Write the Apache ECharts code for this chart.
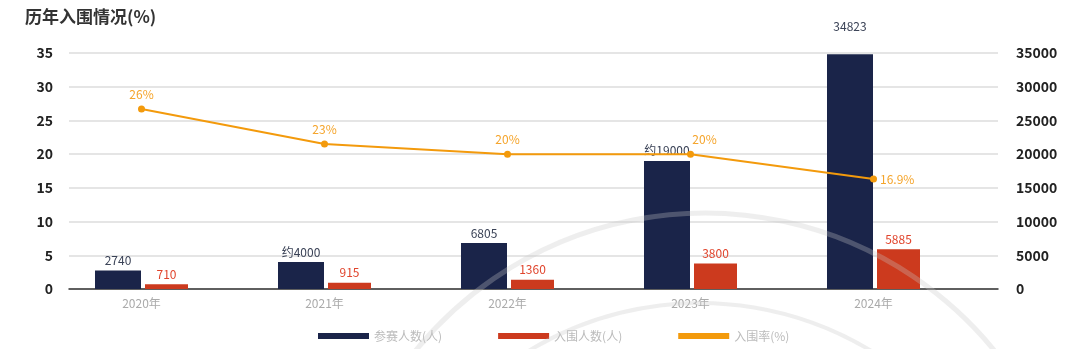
<!DOCTYPE html>
<html>
<head>
<meta charset="utf-8">
<script src="https://cdn.jsdelivr.net/npm/echarts@6/dist/echarts.min.js"></script>
<style>
html,body{margin:0;padding:0;background:#fff;}
#c{width:1080px;height:349px;}
</style>
</head>
<body>
<div id="c"></div>
<script>
var categories = ['2020年', '2021年', '2022年', '2023年', '2024年'];
var participants = [2740, 4000, 6805, 19000, 34823];
var participantLabels = ['2740', '约4000', '6805', '约19000', '34823'];
var finalists = [710, 915, 1360, 3800, 5885];
var rate = [26.7, 21.5, 20.0, 20.0, 16.3];
var rateLabels = ['26%', '23%', '20%', '20%', '16.9%'];
var leftTicks = [0, 35, 5];
var rightTicks = [0, 35000, 5000];
var seriesNames = ['参赛人数(人)', '入围人数(人)', '入围率(%)'];

var FONT = 'Noto Sans CJK SC';
var chart = echarts.init(document.getElementById('c'));

var partData = participants.map(function (v, i) {
  var d = { value: v };
  if (i === participants.length - 1) d.label = { offset: [0, -18] };
  return d;
});
var rateData = rate.map(function (v, i) {
  var d = { value: v };
  if (i === rate.length - 1) d.label = { position: 'right', distance: 3 };
  if (i === 3) d.label = { offset: [14, 0] };
  return d;
});

var option = {
  backgroundColor: '#fff',
  textStyle: { fontFamily: FONT },
  title: {
    text: '历年入围情况(%)', left: 20, top: 3,
    textStyle: { fontSize: 17, fontWeight: 'bold', color: '#333', fontFamily: FONT }
  },
  legend: {
    left: 313, top: 325, icon: 'rect', itemWidth: 51, itemHeight: 6, itemGap: 56,
    data: seriesNames,
    textStyle: { color: '#bbb', fontSize: 12, fontFamily: FONT }
  },
  grid: [
    { left: 69, right: 82, top: 53, bottom: 60 },
    { left: 50, right: 115, top: 53, bottom: 60 }
  ],
  xAxis: [
    { type: 'category', gridIndex: 0, data: categories,
      axisLine: { lineStyle: { color: '#333', width: 1.5 } },
      axisTick: { show: false }, axisLabel: { show: false }, splitLine: { show: false } },
    { type: 'category', gridIndex: 1, data: categories,
      axisLine: { show: false }, axisTick: { show: false },
      axisLabel: { color: '#aaa', fontSize: 12, margin: 8, fontFamily: FONT } }
  ],
  yAxis: [
    { type: 'value', gridIndex: 0, min: leftTicks[0], max: leftTicks[1], interval: leftTicks[2],
      axisLine: { show: false }, axisTick: { show: false },
      axisLabel: { color: '#222', fontSize: 14, fontWeight: 'bold', margin: 16, fontFamily: FONT },
      splitLine: { lineStyle: { color: '#ddd', width: 1.5 } } },
    { type: 'value', gridIndex: 0, position: 'right', min: rightTicks[0], max: rightTicks[1], interval: rightTicks[2],
      axisLine: { show: false }, axisTick: { show: false },
      axisLabel: { color: '#222', fontSize: 14, fontWeight: 'bold', margin: 18, fontFamily: FONT,
        formatter: function (v) { return String(v); } },
      splitLine: { show: false } },
    { type: 'value', gridIndex: 1, min: leftTicks[0], max: leftTicks[1], show: false },
    { type: 'value', gridIndex: 1, min: rightTicks[0], max: rightTicks[1], show: false }
  ],
  series: [
    { name: seriesNames[0], type: 'bar', xAxisIndex: 1, yAxisIndex: 3, data: partData,
      barWidth: 46, barGap: '8.7%', itemStyle: { color: '#1a2449' },
      label: { show: true, position: 'top', distance: 4, color: '#3a4256', fontSize: 12, fontFamily: FONT,
        formatter: function (p) { return participantLabels[p.dataIndex]; } } },
    { name: seriesNames[1], type: 'bar', xAxisIndex: 1, yAxisIndex: 3, data: finalists,
      barWidth: 43, itemStyle: { color: '#cc3a1e' },
      label: { show: true, position: 'top', distance: 4, color: '#e0442c', fontSize: 12, fontFamily: FONT } },
    { name: seriesNames[2], type: 'line', xAxisIndex: 1, yAxisIndex: 2, data: rateData,
      symbol: 'circle', symbolSize: 7, itemStyle: { color: '#f39a0c' },
      lineStyle: { color: '#f39a0c', width: 2 },
      label: { show: true, position: 'top', distance: 5, color: '#f5a42a', fontSize: 12, fontFamily: FONT,
        formatter: function (p) { return rateLabels[p.dataIndex]; } } }
  ],
  graphic: [
    { type: 'arc', z: 100, silent: true,
      shape: { cx: 705, cy: 586, r: 373, startAngle: -2.55, endAngle: -0.59, clockwise: true },
      style: { fill: null, stroke: 'rgba(200,200,200,0.3)', lineWidth: 5 } },
    { type: 'arc', z: 100, silent: true,
      shape: { cx: 700, cy: 633, r: 330, startAngle: -2.6, endAngle: -0.5, clockwise: true },
      style: { fill: null, stroke: 'rgba(200,200,200,0.3)', lineWidth: 4 } }
  ]
};
chart.setOption(option);
</script>
</body>
</html>
